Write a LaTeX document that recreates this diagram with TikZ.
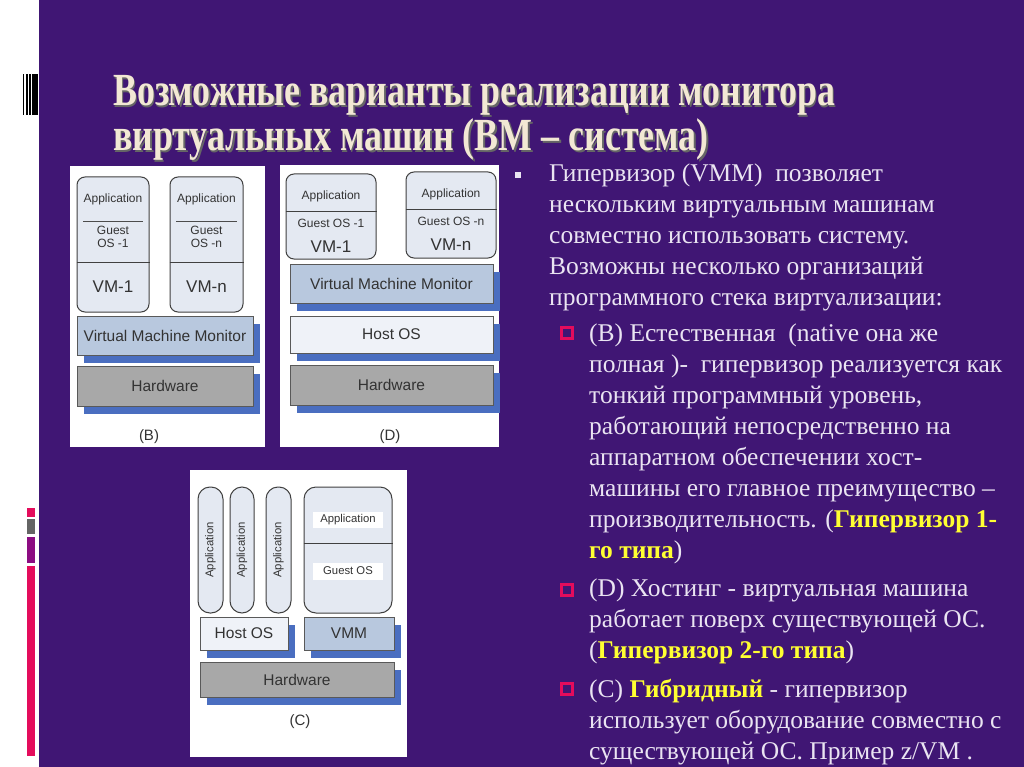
\documentclass[tikz,border=0pt]{standalone}
\usepackage{fontspec}
\setmainfont{Liberation Serif}
\newfontfamily\diagfont{Liberation Sans}
\newfontfamily\titulofonte[FakeStretch=0.78]{Liberation Serif}
\usetikzlibrary{shadows}

\definecolor{fundo}{RGB}{64,22,116}
\definecolor{texto}{RGB}{234,228,242}
\definecolor{amarelo}{RGB}{255,255,50}
\definecolor{creme}{RGB}{242,232,212}
\definecolor{rosa}{RGB}{228,12,92}
\definecolor{roxo}{RGB}{140,12,130}
\definecolor{cinza}{RGB}{100,100,100}
\definecolor{vmfill}{RGB}{228,233,242}
\definecolor{monitor}{RGB}{184,200,222}
\definecolor{hw}{RGB}{168,168,168}
\definecolor{hostos}{RGB}{239,242,248}
\definecolor{sombra}{RGB}{74,110,192}

\begin{document}
\begin{tikzpicture}[
    x=1pt, y=-1pt,
    % camadas (VMM, Host OS, Hardware)
    camada/.style={
        draw=black!65,
        fill=#1,
        inner sep=0pt,
        font=\diagfont\fontsize{15.5}{16}\selectfont,
        text=black!80,
        drop shadow={shadow xshift=7pt, shadow yshift=-8pt, fill=sombra, opacity=1}
    },
    % máquinas virtuais
    vmbox/.style={
        draw=black!75,
        line width=1pt,
        rounded corners=8pt,
        fill=vmfill,
        inner sep=0pt
    },
    rotulo/.style={font=\diagfont\fontsize{12}{13}\selectfont, text=black!80, inner sep=0pt, align=center},
    vmnome/.style={font=\diagfont\fontsize{17}{18}\selectfont, text=black!80, inner sep=0pt},
    letra/.style={font=\diagfont\fontsize{15}{16}\selectfont, text=black!80, inner sep=0pt},
    corpo/.style={anchor=north west, inner sep=0pt, align=left, text=texto,
        font=\fontsize{25.5}{31}\selectfont},
    marca/.style={draw=rosa, line width=2.5pt, minimum size=11pt, inner sep=0pt},
    titulo/.style={anchor=base west, inner sep=0pt, font=\titulofonte\bfseries\fontsize{46}{46}\selectfont}
]
\useasboundingbox (0,0) rectangle (1024,767);

% ---- FUNDO E FAIXA LATERAL ----
\fill[fundo] (0,0) rectangle (1024,767);
\fill[white] (0,0) rectangle (39,767);
\fill[black] (22.7,74) rectangle (24,115);
\fill[black] (26,74) rectangle (27.7,115);
\fill[black] (28.7,74) rectangle (30.7,115);
\fill[black] (32,74) rectangle (37.7,115);
\fill[rosa]  (27,508) rectangle (35,517);
\fill[cinza] (27,519) rectangle (35,534);
\fill[roxo]  (27,537) rectangle (35,563);
\fill[rosa]  (27,566) rectangle (35,756);

% ---- TÍTULO ----
\node[titulo, text=black!60] (t1s) at (114.5,107.5) {Возможные варианты реализации монитора};
\node[titulo, text=black!60] (t2s) at (114.5,152.5) {виртуальных машин (ВМ – система)};
\node[titulo, text=creme] (t1) at (113,106) {Возможные варианты реализации монитора};
\node[titulo, text=creme] (t2) at (113,151) {виртуальных машин (ВМ – система)};

% ---- PAINEL (B) ----
\node[fill=white, minimum width=195pt, minimum height=281pt, inner sep=0pt] (pB) at (167,306.5) {};
\node[vmbox, minimum width=72pt, minimum height=135pt] (b_vm1) at (113,244.5) {};
\node[vmbox, minimum width=73pt, minimum height=135pt] (b_vmn) at (206.5,244.5) {};
\draw[black!70] (83,221) -- (143,221);
\draw[black!70] (176,221) -- (237,221);
\draw[black!75, line width=1pt] (b_vm1.west |- 0,262) -- (b_vm1.east |- 0,262);
\draw[black!75, line width=1pt] (b_vmn.west |- 0,262) -- (b_vmn.east |- 0,262);
\node[rotulo] (b_app1) at (113,199) {Application};
\node[rotulo] (b_app2) at (206.5,199) {Application};
\node[rotulo] (b_os1) at (113,237) {Guest\\OS -1};
\node[rotulo] (b_os2) at (206.5,237) {Guest\\OS -n};
\node[vmnome] (b_n1) at (113,287) {VM-1};
\node[vmnome] (b_n2) at (206.5,287) {VM-n};
\node[camada=monitor, minimum width=176pt, minimum height=39pt] (b_vmm) at (165,335.5) {Virtual Machine Monitor};
\node[camada=hw, minimum width=176pt, minimum height=40pt] (b_hw) at (165,386) {Hardware};
\node[letra] (b_rot) at (149,437) {(B)};

% ---- PAINEL (D) ----
\node[fill=white, minimum width=219pt, minimum height=282pt, inner sep=0pt] (pD) at (389.5,306) {};
\node[vmbox, minimum width=90pt, minimum height=85pt] (d_vm1) at (331,216.5) {};
\node[vmbox, minimum width=90pt, minimum height=86pt] (d_vmn) at (451,215) {};
\draw[black!75, line width=1pt] (d_vm1.west |- 0,212) -- (d_vm1.east |- 0,212);
\draw[black!75, line width=1pt] (d_vmn.west |- 0,210) -- (d_vmn.east |- 0,210);
\node[rotulo] (d_app1) at (331,196) {Application};
\node[rotulo] (d_app2) at (451,194) {Application};
\node[rotulo] (d_os1) at (331,223) {Guest OS -1};
\node[rotulo] (d_os2) at (451,221) {Guest OS -n};
\node[vmnome] (d_n1) at (331,247) {VM-1};
\node[vmnome] (d_n2) at (451,245) {VM-n};
\node[camada=monitor, minimum width=203pt, minimum height=39pt] (d_vmm) at (391.5,283.5) {Virtual Machine Monitor};
\node[camada=hostos, minimum width=203pt, minimum height=37pt] (d_host) at (391.5,334.5) {Host OS};
\node[camada=hw, minimum width=203pt, minimum height=40pt] (d_hw) at (391.5,385) {Hardware};
\node[letra] (d_rot) at (390,437) {(D)};

% ---- PAINEL (C) ----
\node[fill=white, minimum width=217pt, minimum height=287pt, inner sep=0pt] (pC) at (298.5,613.5) {};
\node[vmbox, rounded corners=12pt, minimum width=25pt, minimum height=126pt] (c_a1) at (210.5,550) {};
\node[vmbox, rounded corners=12pt, minimum width=24pt, minimum height=126pt] (c_a2) at (242,550) {};
\node[vmbox, rounded corners=12pt, minimum width=25pt, minimum height=126pt] (c_a3) at (278.5,550) {};
\node[rotulo, rotate=90, font=\diagfont\fontsize{11.3}{12}\selectfont] (c_t1) at (c_a1) {Application};
\node[rotulo, rotate=90, font=\diagfont\fontsize{11.3}{12}\selectfont] (c_t2) at (c_a2) {Application};
\node[rotulo, rotate=90, font=\diagfont\fontsize{11.3}{12}\selectfont] (c_t3) at (c_a3) {Application};
\node[vmbox, rounded corners=12pt, minimum width=88pt, minimum height=126pt] (c_vm) at (348,550) {};
\draw[black!75, line width=1pt] (c_vm.west |- 0,543) -- (c_vm.east |- 0,543);
\node[rotulo, fill=white, minimum width=70pt, minimum height=16pt, font=\diagfont\fontsize{11.3}{12}\selectfont] (c_app) at (348,520) {Application};
\node[rotulo, fill=white, minimum width=70pt, minimum height=17pt, font=\diagfont\fontsize{11.3}{12}\selectfont] (c_os) at (348,571) {Guest OS};
\node[camada=hostos, minimum width=88pt, minimum height=33pt] (c_host) at (244,633.5) {Host OS};
\node[camada=monitor, minimum width=90pt, minimum height=33pt] (c_vmm) at (349,633.5) {VMM};
\node[camada=hw, minimum width=194pt, minimum height=35pt] (c_hw) at (297,679.5) {Hardware};
\node[letra] (c_rot) at (300,722) {(C)};

% ---- TEXTO ----
\node[fill=texto, minimum size=6pt, inner sep=0pt] (bul) at (518,175) {};
\node[corpo] (p1) at (549,164)
    {Гипервизор (VMM)\ \ позволяет\\
     нескольким виртуальным машинам\\
     совместно использовать систему.\\
     Возможны несколько организаций\\
     программного стека виртуализации:};

\node[marca] (mB) at (567,333) {};
\node[corpo] (pB) at (589,324)
    {(B) Естественная\ \ (native она же\\
     полная )-\ \ гипервизор реализуется как\\
     тонкий программный уровень,\\
     работающий непосредственно на\\
     аппаратном обеспечении хост-\\
     машины его главное преимущество --\\
     производительность. ({\color{amarelo}\bfseries Гипервизор 1-}\\
     {\color{amarelo}\bfseries го типа})};

\node[marca] (mD) at (567,590) {};
\node[corpo] (pD) at (589,579)
    {(D) Хостинг - виртуальная машина\\
     работает поверх существующей ОС.\\
     ({\color{amarelo}\bfseries Гипервизор 2-го типа})};

\node[marca] (mC) at (567,689) {};
\node[corpo] (pC) at (589,679)
    {(C) {\color{amarelo}\bfseries Гибридный} - гипервизор\\
     использует оборудование совместно с\\
     существующей ОС. Пример z/VM .};

\end{tikzpicture}
\end{document}
